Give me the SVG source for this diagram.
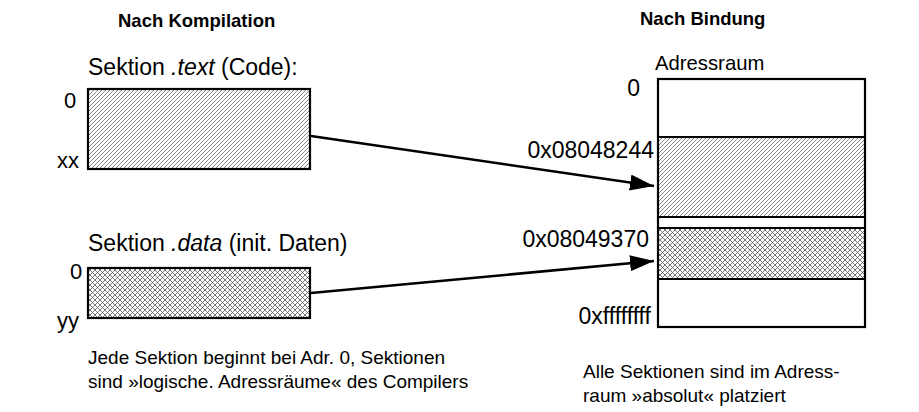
<svg xmlns="http://www.w3.org/2000/svg" width="919" height="412" viewBox="0 0 919 412">
<style>
text{font-family:"Liberation Sans",Arial,sans-serif;font-size:19px;fill:#000}
.b{font-weight:bold;font-size:18.5px}
.l{font-size:23px}
.n{font-size:22px}
.a{font-size:20.3px}
.box{stroke:#000;stroke-width:2.2}
.ln{stroke:#000;stroke-width:2.6;fill:none}
</style>
<defs>
<pattern id="hatch" width="4" height="4" patternUnits="userSpaceOnUse">
<rect width="4" height="4" fill="#fff"/>
<path d="M-1,1 L1,-1 M0,4 L4,0 M3,5 L5,3" stroke="#6a6a6a" stroke-width="0.8"/>
</pattern>
<pattern id="cross" width="5" height="5" patternUnits="userSpaceOnUse">
<rect width="5" height="5" fill="#fff"/>
<path d="M0,0 L5,5 M5,0 L0,5" stroke="#555" stroke-width="0.8"/>
</pattern>
<marker id="ah" markerWidth="24" markerHeight="16" refX="24" refY="8" orient="auto" markerUnits="userSpaceOnUse">
<path d="M0,0 L24,8 L0,16 z" fill="#000"/>
</marker>
</defs>
<g id="titles">
<text class="b" x="118" y="27">Nach Kompilation</text>
<text class="b" x="640" y="25">Nach Bindung</text>
</g>
<g id="text-section">
<text class="l" x="88" y="75">Sektion <tspan font-style="italic">.text</tspan> (Code):</text>
<text class="n" x="64" y="108">0</text>
<text class="n" x="57" y="168">xx</text>
<rect class="box" x="88" y="89" width="222" height="80" fill="url(#hatch)"/>
</g>
<g id="data-section">
<text class="l" x="88" y="251">Sektion <tspan font-style="italic">.data</tspan> (init. Daten)</text>
<text class="n" x="70" y="279">0</text>
<text class="n" x="57" y="328">yy</text>
<rect class="box" x="88" y="268" width="222" height="50" fill="url(#cross)"/>
</g>
<g id="address-space">
<text class="a" x="655" y="70">Adressraum</text>
<rect x="658" y="137" width="207" height="80" fill="url(#hatch)"/>
<rect x="658" y="228" width="207" height="51" fill="url(#cross)"/>
<rect class="box" x="658" y="79" width="207" height="248" fill="none"/>
<path class="box" d="M658,137 H865 M658,217 H865 M658,228 H865 M658,279 H865"/>
<text class="l" x="640" y="96" text-anchor="end">0</text>
<text class="l" x="654" y="158" text-anchor="end">0x08048244</text>
<text class="l" x="649" y="247" text-anchor="end">0x08049370</text>
<text class="l" x="651" y="324" text-anchor="end">0xffffffff</text>
</g>
<g id="connectors">
<line class="ln" x1="311" y1="136" x2="654" y2="186" marker-end="url(#ah)"/>
<line class="ln" x1="311" y1="293" x2="654" y2="261" marker-end="url(#ah)"/>
</g>
<g id="notes">
<text x="88" y="364">Jede Sektion beginnt bei Adr. 0, Sektionen</text>
<text x="88" y="388">sind »logische. Adressräume« des Compilers</text>
<text x="583" y="378">Alle Sektionen sind im Adress-</text>
<text x="583" y="402">raum »absolut« platziert</text>
</g>
</svg>
